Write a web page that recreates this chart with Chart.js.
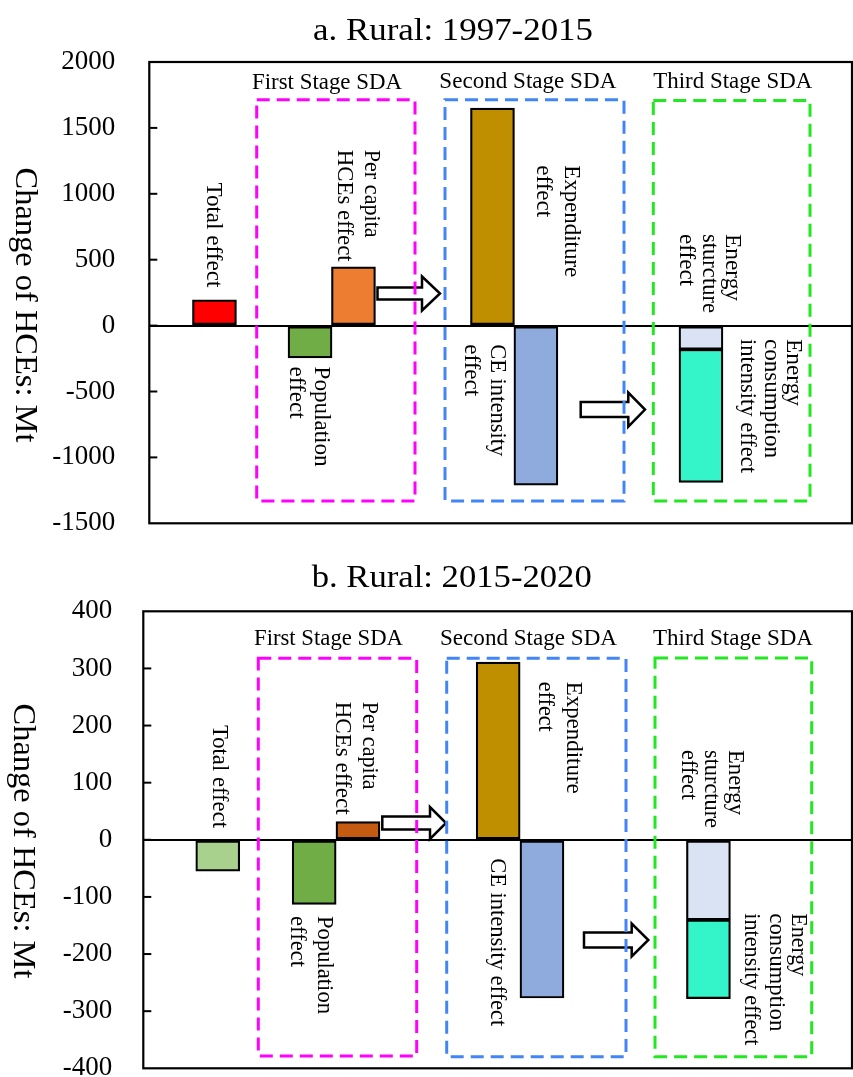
<!DOCTYPE html>
<html><head><meta charset="utf-8">
<script src="https://cdn.jsdelivr.net/npm/chart.js@4.4.0/dist/chart.umd.min.js"></script>
<style>
html,body{margin:0;padding:0;background:#fff;overflow:hidden;width:853px;height:1077px;position:relative;}
canvas{position:absolute;left:0;}
#c1{top:0}
#c2{top:545px}
</style></head><body>
<canvas id="c1" width="853" height="545"></canvas>
<canvas id="c2" width="853" height="532"></canvas>
<script>
// ---------------- DATA ----------------
const categories = ['Total effect','Population effect','Per capita HCEs effect','Expenditure effect','CE intensity effect','Energy sturcture effect','Energy consumption intensity effect'];
const rural1997_2015 = [195, -245, 445, 1650, -1210, -180, -1010];
const rural2015_2020 = [-55, -113, 32, 311, -277, -140, -138];
const yTicks1997_2015 = [2000, 1500, 1000, 500, 0, -500, -1000, -1500];
const yTicks2015_2020 = [400, 300, 200, 100, 0, -100, -200, -300, -400];

// ---------------- STYLE / LAYOUT ----------------
const colors1997_2015 = ['#ff0000','#70ad47','#ed7d31','#bf8f00','#8faadc','#dae3f3','#33f5c9'];
const colors2015_2020 = ['#a9d18e','#70ad47','#c55a11','#bf8f00','#8faadc','#dae3f3','#33f5c9'];
const SLOT_COUNT = 81;
const FONT = '"Liberation Serif","Times New Roman","DejaVu Serif",serif';

function txt(ctx, s, x, y, size, len, rot, align, baseline){
  ctx.save();
  ctx.translate(x, y);
  if (rot) ctx.rotate(Math.PI/2);
  ctx.font = size + 'px ' + FONT;
  const w = ctx.measureText(s).width;
  const k = len ? len / w : 1;
  ctx.scale(k, 1);
  ctx.fillStyle = '#000';
  ctx.textAlign = align || 'left';
  ctx.textBaseline = baseline || 'middle';
  ctx.fillText(s, 0, 0);
  ctx.restore();
}
function arrow(ctx, x0, xh, xt, cy, sh, hh){
  ctx.save();
  ctx.beginPath();
  ctx.moveTo(x0, cy - sh/2); ctx.lineTo(xh, cy - sh/2); ctx.lineTo(xh, cy - hh/2);
  ctx.lineTo(xt, cy); ctx.lineTo(xh, cy + hh/2); ctx.lineTo(xh, cy + sh/2);
  ctx.lineTo(x0, cy + sh/2); ctx.closePath();
  ctx.fillStyle = '#fff'; ctx.fill();
  ctx.lineWidth = 2.5; ctx.strokeStyle = '#000'; ctx.lineJoin = 'miter'; ctx.stroke();
  ctx.restore();
}

function makeChart(el, spec){
  const labels = new Array(SLOT_COUNT).fill('');
  spec.slots.forEach((s, i) => { labels[s] = labels[s] ? labels[s] + ' / ' + categories[i] : categories[i]; });
  const datasets = categories.map((name, i) => {
    const d = new Array(SLOT_COUNT).fill(null);
    d[spec.slots[i]] = spec.values[i];
    return { label: name, data: d, backgroundColor: spec.colors[i], borderColor: '#000', borderWidth: 2.2,
             borderSkipped: false, barThickness: 44 };
  });
  const oy = spec.offsetY;
  const annot = {
    id: 'annot',
    afterDatasetsDraw(chart){
      const ctx = chart.ctx, a = chart.chartArea, ys = chart.scales.y;
      ctx.save(); ctx.strokeStyle = '#000'; ctx.lineWidth = 2;
      spec.ticks.forEach(v => {
        if (v === spec.ticks[0] || v === spec.ticks[spec.ticks.length-1]) return;
        const py = ys.getPixelForValue(v);
        ctx.beginPath(); ctx.moveTo(a.left, py); ctx.lineTo(a.left + 8, py); ctx.stroke();
      });
      ctx.lineWidth = 2.2;
      ctx.strokeRect(a.left, a.top, a.right - a.left - 1, a.bottom - a.top);
      ctx.restore();
      spec.arrows.forEach(r => arrow(ctx, r[0], r[1], r[2], r[3] - oy, r[4], r[5]));
      spec.boxes.forEach(b => {
        ctx.save(); ctx.strokeStyle = b[0]; ctx.lineWidth = 3; ctx.setLineDash([13, 7]);
        ctx.strokeRect(b[1], b[2] - oy, b[3] - b[1], b[4] - b[2]);
        ctx.restore();
      });
      txt(ctx, spec.title[0], spec.title[1], spec.title[2] - oy, 32, spec.title[3], false, 'left', 'alphabetic');
      txt(ctx, 'Change of HCEs: Mt', spec.yTitle[0], spec.yTitle[1] - oy, 32, spec.yTitle[2], true, 'center', 'middle');
      spec.stages.forEach(s => txt(ctx, s[0], s[1], s[2] - oy, 24, s[3], false, 'left', 'alphabetic'));
      spec.labels.forEach(l => txt(ctx, l[0], l[1], l[2] - oy, 24, l[3], true, 'left', 'middle'));
    }
  };
  return new Chart(el, {
    type: 'bar',
    data: { labels, datasets },
    options: {
      responsive: false, animation: false, devicePixelRatio: 1,
      layout: { padding: { top: spec.padTop, bottom: spec.padBottom, left: 0, right: 0 } },
      plugins: { legend: { display: false }, tooltip: { enabled: false }, title: { display: false } },
      scales: {
        x: { type: 'category', stacked: true, display: false, offset: true },
        y: {
          stacked: true,
          min: spec.ticks[spec.ticks.length - 1], max: spec.ticks[0],
          afterBuildTicks: s => { s.ticks = spec.ticks.map(v => ({ value: v })); },
          afterFit: s => { s.width = spec.axisX; s.paddingTop = 0; s.paddingBottom = 0; },
          ticks: { padding: spec.labelPad, color: '#000', font: { family: FONT, size: 27 }, callback: v => String(v) },
          grid: { drawTicks: false, lineWidth: 2,
                  color: c => (c.tick && c.tick.value === 0) ? '#000' : 'rgba(0,0,0,0)' },
          border: { display: false }
        }
      }
    },
    plugins: [annot]
  });
}

makeChart(document.getElementById('c1'), {
  offsetY: 0, axisX: 149.3, labelPad: 34, padTop: 62, padBottom: 545 - 523.3,
  values: rural1997_2015, ticks: yTicks1997_2015, colors: colors1997_2015,
  slots: [7, 18, 23, 39, 44, 63, 63],
  title: ['a. Rural: 1997-2015', 313, 39.6, 280],
  yTitle: [24, 305, 275],
  stages: [['First Stage SDA', 252, 88.8, 150], ['Second Stage SDA', 439.3, 88, 177], ['Third Stage SDA', 653.3, 88, 159]],
  boxes: [['#ff00ff', 256.7, 99.8, 415, 500.9], ['#4285f4', 445, 99.8, 624, 500.9], ['#22e822', 653.3, 100.5, 810, 501]],
  arrows: [[377.5, 422, 440, 293.5, 12, 34], [580.7, 628.3, 645, 409.6, 15, 34]],
  labels: [
    ['Total effect', 213, 182.4, 105],
    ['Per capita', 371, 149.7, 88], ['HCEs effect', 344, 149.7, 112],
    ['Population', 321.7, 366.6, 100], ['effect', 296, 366.6, 52],
    ['Expenditure', 571.7, 165.2, 112], ['effect', 543, 165.2, 52],
    ['CE intensity', 497, 344.2, 112], ['effect', 471.5, 344.2, 52],
    ['Energy', 732.5, 234, 67], ['sturcture', 709, 234, 79], ['effect', 686.7, 234, 52],
    ['Energy', 793, 339, 67], ['consumption', 771.7, 339, 119], ['intensity effect', 747.5, 339, 134]
  ]
});

makeChart(document.getElementById('c2'), {
  offsetY: 545, axisX: 143.3, labelPad: 31, padTop: 611.3 - 545, padBottom: 1077 - 1068.3,
  values: rural2015_2020, ticks: yTicks2015_2020, colors: colors2015_2020,
  slots: [8, 19, 24, 40, 45, 64, 64],
  title: ['b. Rural: 2015-2020', 311.7, 586.7, 280],
  yTitle: [22, 841, 275],
  stages: [['First Stage SDA', 254, 645, 149], ['Second Stage SDA', 440, 645, 177], ['Third Stage SDA', 653, 645, 160]],
  boxes: [['#ff00ff', 258.3, 658.3, 416.7, 1056], ['#4285f4', 446.7, 658.3, 626, 1056.7], ['#22e822', 655, 658, 811.7, 1056.7]],
  arrows: [[382.3, 430, 446, 823, 13, 32], [584, 631.7, 648.3, 940, 15, 33]],
  labels: [
    ['Total effect', 219.7, 725, 103],
    ['Per capita', 369, 701.7, 88], ['HCEs effect', 342.5, 701.7, 113],
    ['Population', 324, 916, 98], ['effect', 297.5, 916, 51],
    ['Expenditure', 573.3, 681.7, 112], ['effect', 545.3, 681.7, 50],
    ['CE intensity effect', 497.5, 858.3, 168],
    ['Energy', 735, 750, 65], ['sturcture', 710.8, 750, 78], ['effect', 688.3, 750, 50],
    ['Energy', 798.3, 913.3, 63], ['consumption', 775.8, 913.3, 118], ['intensity effect', 751.7, 913.3, 132]
  ]
});
</script>
</body></html>
